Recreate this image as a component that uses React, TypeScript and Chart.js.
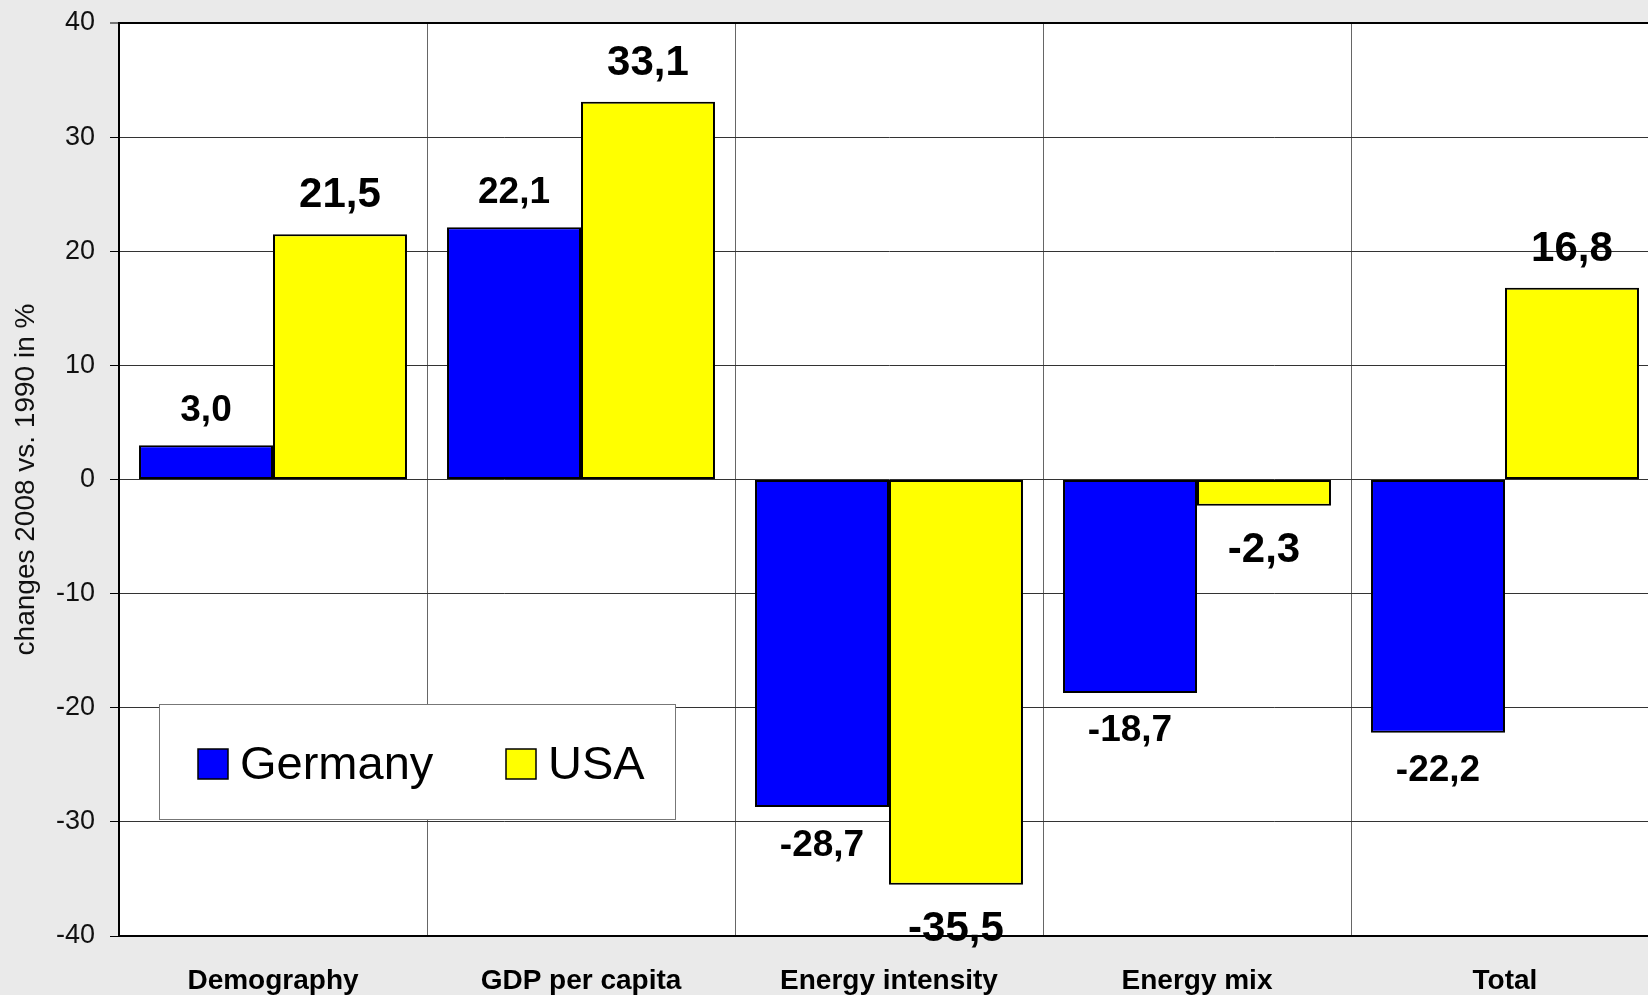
import React, { useEffect, useRef } from 'react';
import { Chart, registerables } from 'chart.js';

Chart.register(...registerables);

// Decomposition of CO2 emission changes, 2008 vs. 1990
const categories = ['Demography', 'GDP per capita', 'Energy intensity', 'Energy mix', 'Total'];
const germanyValues = [3.0, 22.1, -28.7, -18.7, -22.2];
const usaValues = [21.5, 33.1, -35.5, -2.3, 16.8];
const seriesNames = ['Germany', 'USA'];
const yMin = -40;
const yMax = 40;
const yStep = 10;
const yTitle = 'changes 2008 vs. 1990 in %';

const FONT = "'Liberation Sans', Arial, Helvetica, sans-serif";
const SERIES_COLORS = ['#0000FF', '#FFFF00'];
// value label styling per series: font size, gap above positive bars, gap below negative bars
const LABEL_STYLES = [
  { size: 37, gapAbove: 24, gapBelow: 22 },
  { size: 42, gapAbove: 27, gapBelow: 26 },
];

const plotBackground = {
  id: 'plotBackground',
  beforeDraw(chart: any) {
    const { ctx, chartArea: a } = chart;
    ctx.save();
    ctx.fillStyle = '#ffffff';
    ctx.fillRect(a.left, a.top, a.right - a.left, a.bottom - a.top);
    ctx.restore();
  },
};

const valueLabels = {
  id: 'valueLabels',
  afterDraw(chart: any) {
    const ctx = chart.ctx;
    chart.data.datasets.forEach((ds: any, i: number) => {
      const meta = chart.getDatasetMeta(i);
      const st = LABEL_STYLES[i];
      ctx.save();
      ctx.font = `bold ${st.size}px ${FONT}`;
      ctx.fillStyle = '#000000';
      ctx.textAlign = 'center';
      ctx.textBaseline = 'alphabetic';
      meta.data.forEach((bar: any, j: number) => {
        const v = ds.data[j] as number;
        const text = v.toFixed(1).replace('.', ',');
        const y = v >= 0 ? bar.y - st.gapAbove : bar.y + st.gapBelow + st.size * 0.716;
        ctx.fillText(text, bar.x, y);
      });
      ctx.restore();
    });
  },
};

const boxedLegend = {
  id: 'boxedLegend',
  afterDraw(chart: any) {
    const { ctx, chartArea: a } = chart;
    const left = a.left + 40;
    const top = a.top + 681;
    const w = 516;
    const h = 115;
    ctx.save();
    ctx.fillStyle = '#ffffff';
    ctx.fillRect(left, top, w, h);
    ctx.strokeStyle = '#777777';
    ctx.lineWidth = 1;
    ctx.strokeRect(left + 0.5, top + 0.5, w, h);
    const itemX = [left + 39, left + 347];
    const sq = 30;
    const baseY = top + 75;
    ctx.font = `47px ${FONT}`;
    ctx.textBaseline = 'alphabetic';
    ctx.textAlign = 'left';
    chart.data.datasets.forEach((ds: any, i: number) => {
      const x = itemX[i];
      ctx.fillStyle = ds.backgroundColor;
      ctx.fillRect(x, baseY - sq, sq, sq);
      ctx.strokeStyle = '#000000';
      ctx.lineWidth = 1.5;
      ctx.strokeRect(x, baseY - sq, sq, sq);
      ctx.fillStyle = '#000000';
      ctx.fillText(ds.label, x + sq + 12, baseY);
    });
    ctx.restore();
  },
};

export default function App() {
  const canvasRef = useRef<HTMLCanvasElement | null>(null);

  useEffect(() => {
    const canvas = canvasRef.current;
    if (!canvas) return;
    const chart = new Chart(canvas, {
      type: 'bar',
      data: {
        labels: categories,
        datasets: [
          {
            label: seriesNames[0],
            data: germanyValues,
            backgroundColor: SERIES_COLORS[0],
            borderColor: '#000000',
            borderWidth: 2,
            borderSkipped: false,
          },
          {
            label: seriesNames[1],
            data: usaValues,
            backgroundColor: SERIES_COLORS[1],
            borderColor: '#000000',
            borderWidth: 2,
            borderSkipped: false,
          },
        ],
      },
      options: {
        responsive: false,
        animation: false,
        layout: { padding: { top: 23, right: 3, left: 0, bottom: 0 } },
        datasets: { bar: { categoryPercentage: 0.87, barPercentage: 1 } },
        plugins: {
          legend: { display: false },
          tooltip: { enabled: false },
        },
        scales: {
          x: {
            grid: { offset: true, color: '#666666', lineWidth: 1, drawTicks: false },
            border: { color: '#000000', width: 2 },
            ticks: {
              font: { family: FONT, size: 28, weight: 'bold' },
              color: '#000000',
              padding: 28,
              maxRotation: 0,
              autoSkip: false,
            },
            afterFit: (s: any) => {
              s.height = 59;
            },
          },
          y: {
            min: yMin,
            max: yMax,
            ticks: {
              stepSize: yStep,
              font: { family: FONT, size: 27 },
              color: '#111111',
              padding: 15,
            },
            grid: {
              color: (c: any) => (c.tick && c.tick.value === yMax ? '#000000' : '#333333'),
              lineWidth: (c: any) => (c.tick && c.tick.value === yMax ? 2 : 1),
              tickLength: 9,
              tickColor: '#000000',
              tickWidth: 1,
            },
            border: { color: '#000000', width: 2 },
            title: {
              display: true,
              text: yTitle,
              font: { family: FONT, size: 28 },
              color: '#111111',
              padding: { top: 9, bottom: 0 },
            },
            afterFit: (s: any) => {
              s.width = 119;
              s.paddingTop = 0;
            },
          },
        },
      } as any,
      plugins: [plotBackground, valueLabels, boxedLegend],
    });
    return () => chart.destroy();
  }, []);

  return (
    <div
      style={{
        position: 'fixed',
        left: 0,
        top: 0,
        width: 1648,
        height: 995,
        overflow: 'hidden',
        background: '#eaeaea',
      }}
    >
      <canvas ref={canvasRef} width={1662} height={995} style={{ display: 'block' }} />
    </div>
  );
}
